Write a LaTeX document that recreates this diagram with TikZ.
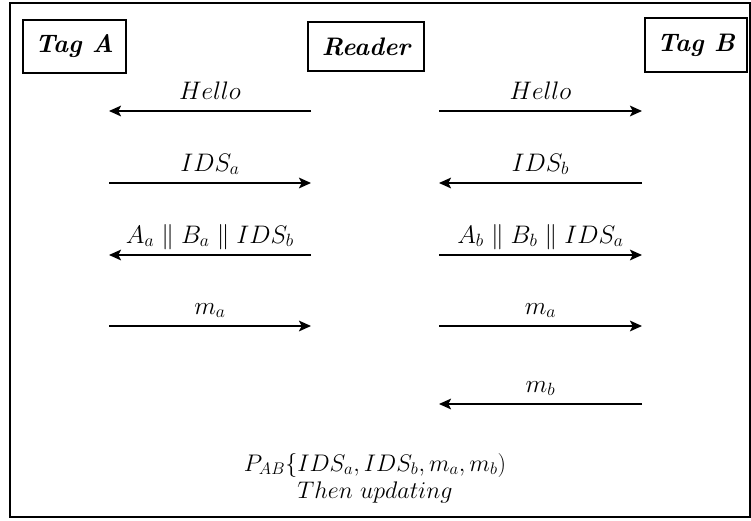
\RequirePackage{fix-cm}
\documentclass[tikz,border=0pt]{standalone}
\usepackage{fontspec}
\usetikzlibrary{arrows.meta}
\tikzset{
  party/.style={draw, line width=1.4pt, inner sep=0pt,
    font=\bfseries\itshape\fontsize{19}{24}\selectfont},
  msg/.style={line width=1.3pt, -{Stealth[length=9pt,width=8pt,inset=2pt]}},
  lbl/.style={anchor=base, yshift=9pt, font=\fontsize{19}{22}\selectfont}
}

\begin{document}
\begin{tikzpicture}[x=0.75pt, y=0.75pt]
    \useasboundingbox (0,0) rectangle (751,-521);
    \draw[line width=1.8pt] (10,-3) rectangle (750,-517);

    \node[party, minimum width=77pt, minimum height=40pt] (tagA) at (74.5,-46.5) {Tag A};
    \node[party, minimum width=87pt, minimum height=37pt] (reader) at (366,-46.5) {Reader};
    \node[party, minimum width=76pt, minimum height=40pt] (tagB) at (696,-45) {Tag B};

    % ends of the messages, one row each
    \foreach \row/\y in {1/111, 2/183, 3/255, 4/326, 5/404} {
        \coordinate (a\row) at (109,-\y);
        \coordinate (rl\row) at (311,-\y);
        \coordinate (rr\row) at (439,-\y);
        \coordinate (b\row) at (642,-\y);
    }

    \draw[msg] (rl1) -- node[lbl] (hA) {$Hello$} (a1);
    \draw[msg] (rr1) -- node[lbl] (hB) {$Hello$} (b1);
    \draw[msg] (a2) -- node[lbl] (idA) {$IDS_a$} (rl2);
    \draw[msg] (b2) -- node[lbl] (idB) {$IDS_b$} (rr2);
    \draw[msg] (rl3) -- node[lbl] (kA) {$A_a \parallel B_a \parallel IDS_b$} (a3);
    \draw[msg] (rr3) -- node[lbl] (kB) {$A_b \parallel B_b \parallel IDS_a$} (b3);
    \draw[msg] (a4) -- node[lbl] (mA) {$m_a$} (rl4);
    \draw[msg] (rr4) -- node[lbl] (mA2) {$m_a$} (b4);
    \draw[msg] (b5) -- node[lbl] (mB) {$m_b$} (rr5);

    \node[font=\fontsize{18}{21}\selectfont] (proof) at (375,-465) {$P_{AB}\{IDS_a, IDS_b, m_a, m_b)$};
    \node[font=\fontsize{18}{21}\selectfont] (upd) at (375,-492) {$Then\ updating$};
\end{tikzpicture}
\end{document}
